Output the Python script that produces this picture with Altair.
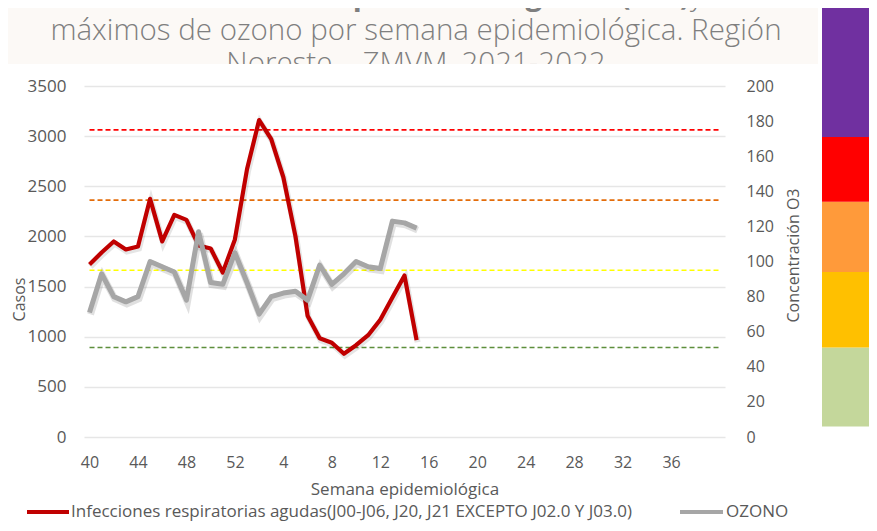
import altair as alt
import pandas as pd

# ---------------- data ----------------
axis_weeks = list(range(40, 53)) + list(range(1, 41))
axis_years = [2021] * 13 + [2022] * 40
label_weeks = [40, 44, 48, 52, 4, 8, 12, 16, 20, 24, 28, 32, 36]
label_years = [2021, 2021, 2021, 2021] + [2022] * 9

weeks = list(range(40, 53)) + list(range(1, 16))
years = [2021] * 13 + [2022] * 15
ira = [1720, 1840, 1950, 1870, 1900, 2375, 1950, 2215, 2165, 1910, 1880, 1640, 1970,
       2670, 3160, 2970, 2590, 2000, 1210, 985, 940, 830, 915, 1015, 1170, 1390, 1610, 965]
ozono = [71, 93, 80, 77, 80, 100, 97, 94, 78, 117, 88, 87, 105,
         88, 70, 80, 82, 83, 78, 98, 87, 93, 100, 97, 96, 123, 122, 119]

thresholds = [51, 95, 135, 175]
threshold_colors = ["#5e8f3c", "#ffff00", "#e36c0a", "#ff0000"]

band_low = [6, 51, 94, 134, 171]
band_high = [51, 94, 134, 171, 260]
band_colors = ["#c4d79b", "#ffc000", "#ff9a3a", "#ff0000", "#7030a0"]

series_names = ["Infecciones respiratorias agudas(J00-J06, J20, J21 EXCEPTO J02.0 Y J03.0)", "OZONO"]
series_colors = ["#c00000", "#a6a6a6"]

title_bold = "Casos de Infecciones Respiratorias Agudas (IRA)"
title_rest = [" y niveles",
              "máximos de ozono por semana epidemiológica. Región",
              "Noreste – ZMVM, 2021-2022"]

# ---------------- tables ----------------
def key(y, w):
    return f"{y}-{w}"

axis_keys = [key(y, w) for y, w in zip(axis_years, axis_weeks)]
label_keys = [key(y, w) for y, w in zip(label_years, label_weeks)]

df = pd.DataFrame({"k": [key(y, w) for y, w in zip(years, weeks)],
                   "ira": ira, "o3": ozono})
df_thr = pd.DataFrame({"v": thresholds, "c": threshold_colors,
                       "k": axis_keys[0], "k2": axis_keys[-1]})
df_band = pd.DataFrame({"lo": band_low, "hi": band_high, "c": band_colors})
one = pd.DataFrame({"a": [0]})

W, H = 641, 351
FONT = "Open Sans"
GREY = "#595959"

xscale = alt.Scale(type="point", domain=axis_keys, padding=0.455, align=0.5)


def x_enc():
    return alt.X("k:N", scale=xscale, sort=None,
                 axis=alt.Axis(values=label_keys, labelExpr="split(datum.value, '-')[1]",
                               title="Semana epidemiológica", labelAngle=0,
                               ticks=False, domain=False, grid=False, labelPadding=17,
                               labelFont=FONT, labelFontSize=16, labelColor=GREY,
                               titleFont=FONT, titleFontSize=17, titleColor=GREY,
                               titleFontWeight="normal", titleY=52, titleBaseline="middle"))


def y_left():
    return alt.Y("ira:Q", scale=alt.Scale(domain=[0, 3500], nice=False),
                 axis=alt.Axis(orient="left", values=list(range(0, 3501, 500)), title="Casos",
                               format="d",
                               grid=True, gridColor="#e6e6e6", gridWidth=1.5,
                               ticks=False, domain=False, labelPadding=18,
                               labelFont=FONT, labelFontSize=17, labelColor=GREY,
                               titleFont=FONT, titleFontSize=16, titleColor=GREY,
                               titleFontWeight="normal", titleX=-65, titleY=213,
                               titleAngle=270, titleAlign="center", titleBaseline="middle"))


def y_right():
    return alt.Y("o3:Q", scale=alt.Scale(domain=[0, 200], nice=False),
                 axis=alt.Axis(orient="right", values=list(range(0, 201, 20)),
                               title="Concentración O3", grid=False, format="d",
                               ticks=False, domain=False, labelPadding=21,
                               labelFont=FONT, labelFontSize=16, labelColor=GREY,
                               titleFont=FONT, titleFontSize=16, titleColor=GREY,
                               titleFontWeight="normal", titleX=68, titleY=169,
                               titleAngle=270, titleAlign="center", titleBaseline="middle"))


# ---------------- decorations (title band) ----------------
TFS = 29.5
tint = alt.Chart(one).mark_rect(color="#fcf9f6").encode(
    x=alt.value(-76), x2=alt.value(734), y=alt.value(-78), y2=alt.value(-22))
cover = alt.Chart(one).mark_rect(color="white").encode(
    x=alt.value(-76), x2=alt.value(734), y=alt.value(-22), y2=alt.value(-7))
t1a = alt.Chart(one).mark_text(font=FONT, fontSize=TFS, fontWeight="bold", color="#7f7f7f",
                               align="right", baseline="alphabetic").encode(
    x=alt.value(606), y=alt.value(-81), text=alt.value(title_bold))
t1b = alt.Chart(one).mark_text(font=FONT, fontSize=TFS, fontWeight=300, color="#7f7f7f",
                               align="left", baseline="alphabetic").encode(
    x=alt.value(606), y=alt.value(-81), text=alt.value(title_rest[0]))
t2 = alt.Chart(one).mark_text(font=FONT, fontSize=TFS, fontWeight=300, color="#7f7f7f",
                              align="center", baseline="alphabetic").encode(
    x=alt.value(332), y=alt.value(-46), text=alt.value(title_rest[1]))
t3 = alt.Chart(one).mark_text(font=FONT, fontSize=TFS, fontWeight=300, color="#7f7f7f",
                              align="center", baseline="alphabetic").encode(
    x=alt.value(332), y=alt.value(-13), text=alt.value(title_rest[2]))

# ---------------- right-scale reference layers ----------------
yr_hidden = alt.Scale(domain=[0, 200], nice=False, zero=True)
blocks = alt.Chart(df_band).mark_rect().encode(
    x=alt.value(738), x2=alt.value(800),
    y=alt.Y("lo:Q", scale=yr_hidden, axis=None), y2="hi:Q",
    color=alt.Color("c:N", scale=None))
rules = alt.Chart(df_thr).mark_rule(strokeDash=[5, 3], strokeWidth=1.6).encode(
    x=x_enc(), x2="k2:N",
    y=alt.Y("v:Q", scale=yr_hidden, axis=None),
    color=alt.Color("c:N", scale=None))
ref_layer = alt.layer(blocks, rules)

# ---------------- IRA (left axis) ----------------
ira_shadow = alt.Chart(df).mark_line(color="black", opacity=0.10, strokeWidth=6,
                                     xOffset=1, yOffset=2).encode(x=x_enc(), y=y_left())
ira_line = alt.Chart(df).mark_line(color=series_colors[0], strokeWidth=4.2,
                                   strokeJoin="round").encode(x=x_enc(), y=y_left())
ira_layer = alt.layer(ira_shadow, ira_line)

# ---------------- Ozone (right axis) ----------------
o3_shadow = alt.Chart(df).mark_line(color="black", opacity=0.12, strokeWidth=7,
                                    xOffset=1, yOffset=2).encode(x=x_enc(), y=y_right())
o3_line = alt.Chart(df).mark_line(color=series_colors[1], strokeWidth=5,
                                  strokeJoin="round").encode(x=x_enc(), y=y_right())
o3_layer = alt.layer(o3_shadow, o3_line)

# ---------------- manual legend ----------------
leg_y = 426
LFS = 17
leg1_sym = alt.Chart(one).mark_rule(color=series_colors[0], strokeWidth=4).encode(
    x=alt.value(-57), x2=alt.value(-15), y=alt.value(leg_y))
leg1_txt = alt.Chart(one).mark_text(font=FONT, fontSize=LFS, color=GREY, align="left",
                                    baseline="middle").encode(
    x=alt.value(-13), y=alt.value(leg_y), text=alt.value(series_names[0]))
leg2_sym = alt.Chart(one).mark_rule(color=series_colors[1], strokeWidth=4).encode(
    x=alt.value(596), x2=alt.value(639), y=alt.value(leg_y))
leg2_txt = alt.Chart(one).mark_text(font=FONT, fontSize=LFS, color=GREY, align="left",
                                    baseline="middle").encode(
    x=alt.value(642), y=alt.value(leg_y), text=alt.value(series_names[1]))

deco = alt.layer(tint, t1a, t1b, t2, t3, cover, leg1_sym, leg1_txt, leg2_sym, leg2_txt)

chart = alt.layer(deco, ref_layer, ira_layer, o3_layer).resolve_scale(
    y="independent").properties(
    width=W, height=H, background="white",
    autosize=alt.AutoSizeParams(type="none"),
    padding={"left": 76, "top": 78, "right": 144, "bottom": 86},
).configure_view(stroke=None)

chart.save("out.html", embed_options={"renderer": "svg", "actions": False})
